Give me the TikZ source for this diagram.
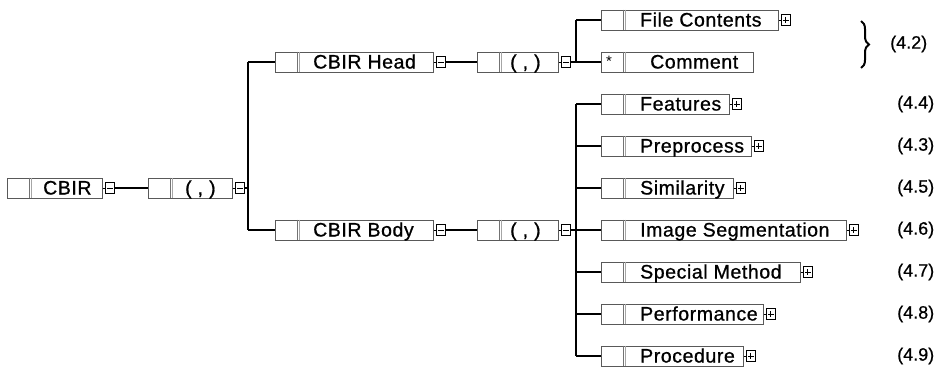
\documentclass[tikz,border=0pt]{standalone}
\usepackage{fontspec}
\setmainfont{Liberation Sans}
\newfontfamily\nfont[LetterSpace=3,FakeBold=0.9]{Liberation Sans}
\newfontfamily\efont[FakeBold=0.6]{Liberation Sans}
\usetikzlibrary{decorations.pathreplacing}
\tikzset{
  cellbox/.style={draw=black!65, line width=0.7pt, minimum height=20pt, inner sep=0pt, anchor=west},
  divider/.style={draw=black!55, line width=0.6pt},
  ntext/.style={font=\nfont\fontsize{19.5}{21}\selectfont, anchor=base west, inner sep=0pt},
  sq/.style={draw=black, line width=0.9pt, minimum width=9.5pt, minimum height=10.5pt, inner sep=0pt, anchor=west},
  minussq/.style={sq, path picture={\draw[line width=1pt] ([xshift=1.8pt]path picture bounding box.west) -- ([xshift=-1.8pt]path picture bounding box.east);}},
  plussq/.style={sq, path picture={\draw[line width=1pt] ([xshift=1.8pt]path picture bounding box.west) -- ([xshift=-1.8pt]path picture bounding box.east); \draw[line width=1pt] ([yshift=-2pt]path picture bounding box.north) -- ([yshift=2pt]path picture bounding box.south);}},
  stub/.style={draw=black, line width=0.9pt},
  conn/.style={draw=black, line width=1.7pt},
  eqn/.style={font=\efont\fontsize{18}{20}\selectfont, anchor=west, inner sep=0pt},
}
% name, x, y, width, text offset, text
\newcommand{\mkbox}[6]{%
  \node[cellbox, minimum width=#4pt] (#1) at (#2,#3) {};
  \draw[divider] ([xshift=22pt]#1.north west) -- ([xshift=22pt]#1.south west);
  \draw[divider, black!35] ([xshift=24pt]#1.north west) -- ([xshift=24pt]#1.south west);
  \node[ntext] (#1t) at ([xshift=#5pt,yshift=-6.5pt]#1.west) {#6};
}
\newcommand{\mksq}[2]{% box name, style
  \node[#2] (#1s) at ([xshift=2pt]#1.east) {};
  \draw[stub] (#1.east) -- (#1s.west);
}
\begin{document}
\begin{tikzpicture}[x=1pt,y=-1pt]
\useasboundingbox (0,0) rectangle (949,367);
% level 0
\mkbox{cbir}{7}{188}{95}{36}{CBIR}
\mksq{cbir}{minussq}
\mkbox{czero}{148}{188}{84}{37}{( , )}
\mksq{czero}{minussq}
\draw[conn] (cbirs.east) -- (czero.west);
% first vertical
\coordinate (vat) at (248,62);
\coordinate (vam) at (248,188);
\coordinate (vab) at (248,230);
\draw[conn] (czeros.east) -- (vam);
\draw[conn] (vat) -- (vab);
% head
\mkbox{head}{275}{62}{158}{38}{CBIR Head}
\mksq{head}{minussq}
\mkbox{hc}{477}{62}{81}{33}{( , )}
\mksq{hc}{minussq}
\draw[conn] (vat) -- (head.west);
\draw[conn] (heads.east) -- (hc.west);
% body
\mkbox{body}{275}{230}{158}{38}{CBIR Body}
\mksq{body}{minussq}
\mkbox{bc}{477}{230}{81}{33}{( , )}
\mksq{bc}{minussq}
\draw[conn] (vab) -- (body.west);
\draw[conn] (bodys.east) -- (bc.west);
% head children
\coordinate (vbt) at (576,20);
\coordinate (vbb) at (576,62);
\draw[conn] (hcs.east) -- (vbb);
\draw[conn] (vbt) -- (vbb);
\mkbox{fc}{601}{20}{177}{39}{File Contents}
\mksq{fc}{plussq}
\mkbox{cm}{601}{62}{152}{49}{Comment}
\node[ntext, font=\fontsize{15}{15}\selectfont] (cmstar) at ([xshift=5pt,yshift=-4pt]cm.west) {*};
\draw[conn] (vbt) -- (fc.west);
\draw[conn] (vbb) -- (cm.west);
% body children
\coordinate (vct) at (576,104);
\coordinate (vcm) at (576,230);
\coordinate (vcb) at (576,356);
\draw[conn] (bcs.east) -- (vcm);
\draw[conn] (vct) -- (vcb);
\mkbox{fe}{601}{104}{128}{39}{Features}
\mksq{fe}{plussq}
\mkbox{pp}{601}{146}{150}{39}{Preprocess}
\mksq{pp}{plussq}
\mkbox{si}{601}{188}{132}{39}{Similarity}
\mksq{si}{plussq}
\mkbox{is}{601}{230}{245}{39}{Image Segmentation}
\mksq{is}{plussq}
\mkbox{sm}{601}{272}{199}{39}{Special Method}
\mksq{sm}{plussq}
\mkbox{pf}{601}{314}{162}{39}{Performance}
\mksq{pf}{plussq}
\mkbox{pr}{601}{356}{142}{39}{Procedure}
\mksq{pr}{plussq}
\foreach \n in {fe,pp,si,is,sm,pf,pr}{\draw[conn] (vct |- \n.west) -- (\n.west);}
% brace and equation labels
\coordinate (brt) at (861,21);
\coordinate (brb) at (861,68);
\draw[line width=2pt, decorate, decoration={brace, amplitude=8pt}] (brt) -- (brb);
\node[eqn] (e42) at (890,44) {(4.2)};
\node[eqn] (e44) at (897,104) {(4.4)};
\node[eqn] (e43) at (897,146) {(4.3)};
\node[eqn] (e45) at (897,188) {(4.5)};
\node[eqn] (e46) at (897,230) {(4.6)};
\node[eqn] (e47) at (897,272) {(4.7)};
\node[eqn] (e48) at (897,314) {(4.8)};
\node[eqn] (e49) at (897,356) {(4.9)};
\end{tikzpicture}
\end{document}
